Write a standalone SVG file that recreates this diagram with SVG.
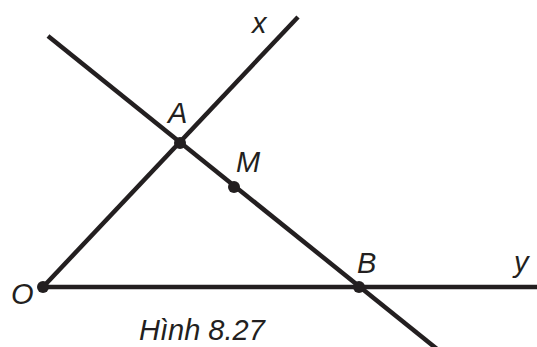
<svg xmlns="http://www.w3.org/2000/svg" width="537" height="347" viewBox="0 0 537 347">
<style>
.ln{stroke:#231f20;stroke-width:4.5;stroke-linecap:butt;fill:none}
.pt{fill:#231f20}
.lb{font-family:"Liberation Sans",Arial,sans-serif;font-style:italic;font-size:29px;fill:#231f20}
</style>
<rect width="537" height="347" fill="#ffffff"/>
<g id="connectors">
<line class="ln" x1="43" y1="287" x2="298" y2="17"/>
<line class="ln" x1="48" y1="36" x2="437" y2="349"/>
<line class="ln" x1="43" y1="287" x2="537" y2="287"/>
</g>
<g id="O"><circle class="pt" cx="43" cy="287" r="6"/><text class="lb" x="11" y="304">O</text></g>
<g id="A"><circle class="pt" cx="180" cy="143" r="6"/><text class="lb" x="168" y="123">A</text></g>
<g id="M"><circle class="pt" cx="234" cy="187" r="6"/><text class="lb" x="236" y="172">M</text></g>
<g id="B"><circle class="pt" cx="359" cy="287" r="6"/><text class="lb" x="357" y="273">B</text></g>
<g id="x"><text class="lb" x="252" y="33">x</text></g>
<g id="y"><text class="lb" x="514" y="272">y</text></g>
<g id="caption"><text class="lb" x="139" y="340">Hình 8.27</text></g>
</svg>
